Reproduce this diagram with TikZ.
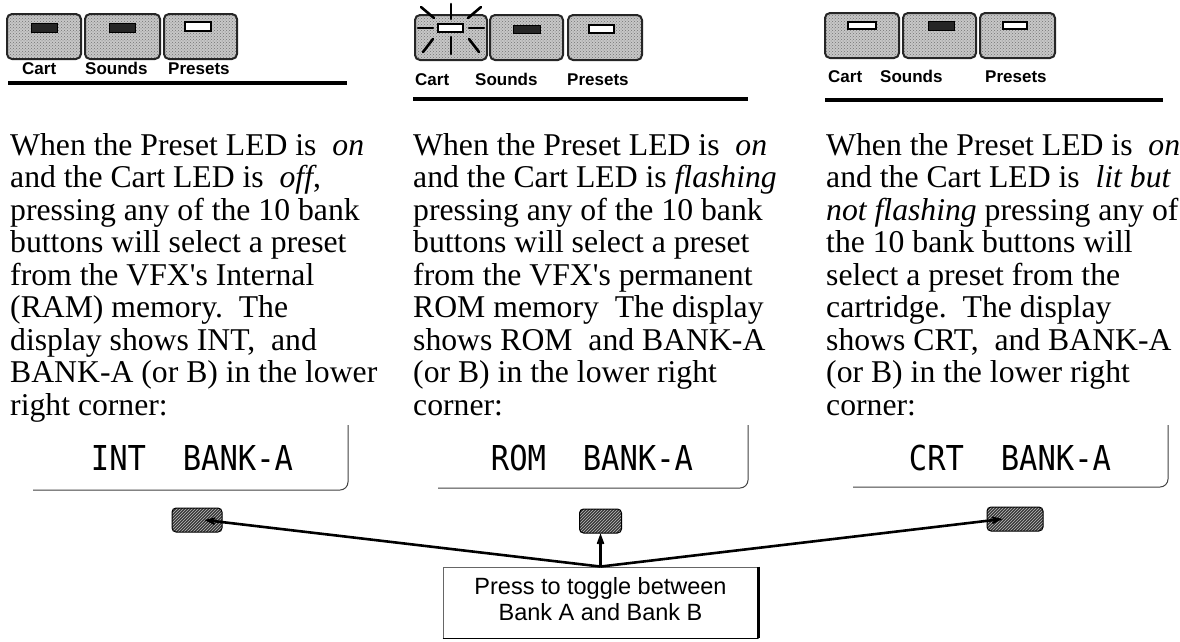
\documentclass[tikz,border=0pt]{standalone}
\usepackage{fontspec}
\setmainfont{Liberation Serif}
\newfontfamily\hsans{Liberation Sans}
\newfontfamily\lcd[FakeStretch=0.89]{DejaVu Sans Mono}
\usetikzlibrary{arrows.meta,patterns}
\tikzset{
  topbtn/.style={draw=black!85, line width=2pt, rounded corners=5pt, preaction={fill=black!22}, pattern=crosshatch dots, pattern color=black!55},
  ledoff/.style={draw=black, line width=1pt, fill=black!85},
  ledon/.style={draw=black, line width=1.6pt, fill=white},
  ray/.style={line width=2.6pt, line cap=round},
  lbl/.style={anchor=base west, inner sep=0pt, font=\hsans\bfseries\fontsize{17}{20}\selectfont},
  hline/.style={line width=3.8pt},
  body/.style={anchor=base west, inner sep=0pt, font=\fontsize{31.7}{32.5}\selectfont},
  lcdtxt/.style={anchor=base, inner sep=0pt, font=\lcd\fontsize{34.3}{36}\selectfont},
  dispframe/.style={draw=black!75, line width=1pt, rounded corners=8pt},
  smallbtn/.style={draw=black, line width=1pt, rounded corners=4pt, minimum height=24pt, inner sep=0pt, preaction={fill=black!78}, pattern=north east lines, pattern color=black!25},
  arr/.style={line width=2.6pt, -{Stealth[length=20pt,width=15pt,inset=13pt]}},
  callbox/.style={draw=black!60, line width=0.9pt, minimum width=315pt, minimum height=71pt, inner sep=0pt},
  calltxt/.style={anchor=base, inner sep=0pt, font=\hsans\fontsize{23.5}{26}\selectfont},
}
\begin{document}
\begin{tikzpicture}[x=1pt,y=-1pt]
\useasboundingbox (0,0) rectangle (1180,641);
% ---------- panel 1 top buttons ----------
\draw[topbtn] (7,14) rectangle (81,59);
\draw[topbtn] (85,14) rectangle (160,59);
\draw[topbtn] (164,14) rectangle (237,59);
\draw[ledoff] (31,23) rectangle (57,32);
\draw[ledoff] (109,23) rectangle (135,32);
\draw[ledon] (185,22) rectangle (211,31);
\node[lbl] (l1a) at (22,74) {Cart};
\node[lbl] (l1b) at (85,74) {Sounds};
\node[lbl] (l1c) at (168,74) {Presets};
\draw[hline] (8,83) -- (347,83);
% ---------- panel 2 top buttons ----------
\draw[topbtn] (415,15) rectangle (487,60);
\draw[topbtn] (490,15) rectangle (563,60);
\draw[topbtn] (568,15) rectangle (642,60);
\draw[ledon] (438,24) rectangle (463,32);
\draw[ledoff] (513,25) rectangle (540,33);
\draw[ledon] (589,25) rectangle (614,33);
\draw[ray] (451,4) -- (451,19);
\draw[ray] (421,7) -- (434,18);
\draw[ray] (481,7) -- (468,18);
\draw[ray] (418,28) -- (433,28);
\draw[ray] (469,28) -- (484,28);
\draw[ray] (423,52) -- (433,39);
\draw[ray] (451,37) -- (451,54);
\draw[ray] (479,52) -- (469,39);
\node[lbl] (l2a) at (415,85) {Cart};
\node[lbl] (l2b) at (475,85) {Sounds};
\node[lbl] (l2c) at (567,85) {Presets};
\draw[hline] (413,99) -- (748,99);
% ---------- panel 3 top buttons ----------
\draw[topbtn] (825,13) rectangle (899,58);
\draw[topbtn] (903,13) rectangle (976,58);
\draw[topbtn] (980,13) rectangle (1055,58);
\draw[ledon] (848,22) rectangle (876,29);
\draw[ledoff] (928,21) rectangle (954,30);
\draw[ledon] (1003,22) rectangle (1027,29);
\node[lbl] (l3a) at (828,82) {Cart};
\node[lbl] (l3b) at (880,82) {Sounds};
\node[lbl] (l3c) at (985,82) {Presets};
\draw[hline] (825,100) -- (1163,100);
% ---------- body text panel 1 ----------
\node[body] (t1a) at (10,155)   {When the Preset LED is\ \ \textit{on}};
\node[body] (t1b) at (10,187.5) {and the Cart LED is\ \ \textit{off},};
\node[body] (t1c) at (10,220)   {pressing any of the 10 bank};
\node[body] (t1d) at (10,252.5) {buttons will select a preset};
\node[body] (t1e) at (10,285)   {from the VFX\textquotesingle s Internal};
\node[body] (t1f) at (10,317.5) {(RAM) memory.\ \ The};
\node[body] (t1g) at (10,350)   {display shows INT,\ \ and};
\node[body] (t1h) at (10,382.5) {BANK-A (or B) in the lower};
\node[body] (t1i) at (10,415)   {right corner:};
% ---------- body text panel 2 ----------
\node[body] (t2a) at (413,155)   {When the Preset LED is\ \ \textit{on}};
\node[body] (t2b) at (413,187.5) {and the Cart LED is \textit{flashing}};
\node[body] (t2c) at (413,220)   {pressing any of the 10 bank};
\node[body] (t2d) at (413,252.5) {buttons will select a preset};
\node[body] (t2e) at (413,285)   {from the VFX\textquotesingle s permanent};
\node[body] (t2f) at (413,317.5) {ROM memory\ \ The display};
\node[body] (t2g) at (413,350)   {shows ROM\ \ and BANK-A};
\node[body] (t2h) at (413,382.5) {(or B) in the lower right};
\node[body] (t2i) at (413,415)   {corner:};
% ---------- body text panel 3 ----------
\node[body] (t3a) at (826,155)   {When the Preset LED is\ \ \textit{on}};
\node[body] (t3b) at (826,187.5) {and the Cart LED is\ \ \textit{lit but}};
\node[body] (t3c) at (826,220)   {\textit{not flashing} pressing any of};
\node[body] (t3d) at (826,252.5) {the 10 bank buttons will};
\node[body] (t3e) at (826,285)   {select a preset from the};
\node[body] (t3f) at (826,317.5) {cartridge.\ \ The display};
\node[body] (t3g) at (826,350)   {shows CRT,\ \ and BANK-A};
\node[body] (t3h) at (826,382.5) {(or B) in the lower right};
\node[body] (t3i) at (826,415)   {corner:};
% ---------- displays ----------
\draw[dispframe] (33,490) -- (348,490) -- (348,425);
\draw[dispframe] (438,488) -- (748,488) -- (748,425);
\draw[dispframe] (853,487) -- (1168,487) -- (1168,425);
\node[lcdtxt] (d1) at (192,470) {INT\ \ BANK-A};
\node[lcdtxt] (d2) at (592,470) {ROM\ \ BANK-A};
\node[lcdtxt] (d3) at (1010,470) {CRT\ \ BANK-A};
% ---------- small bank buttons ----------
\node[smallbtn, minimum width=50pt] (sb1) at (197,520) {};
\node[smallbtn, minimum width=42pt] (sb2) at (600.5,521) {};
\node[smallbtn, minimum width=56pt] (sb3) at (1015,519) {};
% ---------- callout ----------
\node[callbox] (box) at (600.5,602.5) {};
\draw[line width=3.5pt] (box.north east) -- (box.south east);
\draw[line width=1.6pt] (box.south west) -- (box.south east);
\node[calltxt] (c1) at (600.5,594) {Press to toggle between};
\node[calltxt] (c2) at (600.5,620) {Bank A and Bank B};
\draw[arr] (box.north) -- ([xshift=-18pt]sb1.east);
\draw[arr] (box.north) -- ([xshift=16pt]sb3.west);
\draw[arr] (box.north) -- (sb2.south);
\end{tikzpicture}
\end{document}
